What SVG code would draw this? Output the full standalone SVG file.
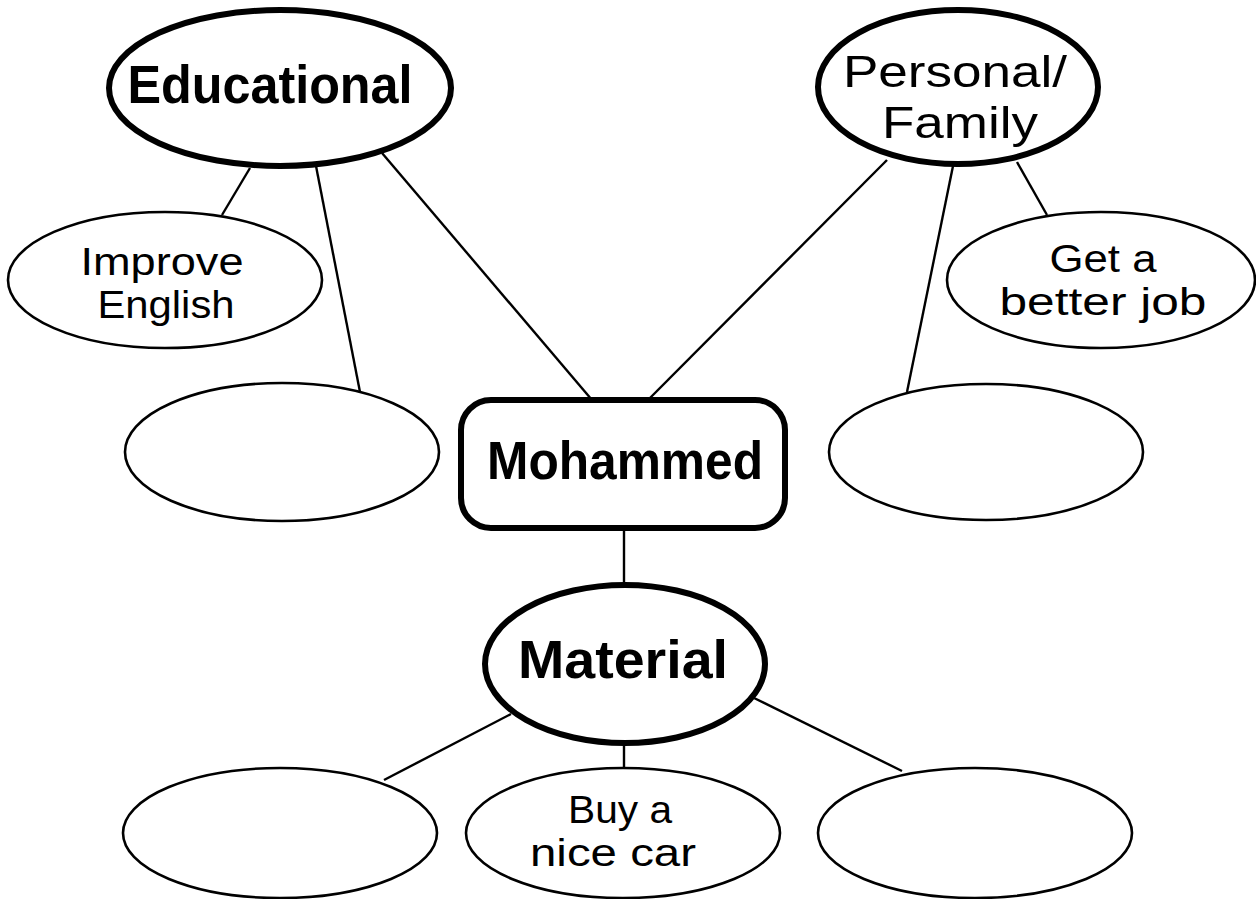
<svg xmlns="http://www.w3.org/2000/svg" width="1256" height="899" viewBox="0 0 1256 899">
<style>
.bg{fill:#fff}
.major{fill:#fff;stroke:#000;stroke-width:6}
.minor{fill:#fff;stroke:#000;stroke-width:2.6}
.conn line{stroke:#000;stroke-width:2.4}
text{font-family:"Liberation Sans","Comic Sans MS",sans-serif;fill:#000;text-anchor:middle}
.big{font-size:54px;font-weight:bold}
.mid{font-size:45px}
.small{font-size:38px}
</style>
<rect class="bg" x="0" y="0" width="1256" height="899"/>
<g id="connectors" class="conn">
<line x1="250" y1="168" x2="222" y2="215"/>
<line x1="316" y1="166" x2="360" y2="392"/>
<line x1="382" y1="153" x2="592" y2="400"/>
<line x1="887" y1="160" x2="648" y2="400"/>
<line x1="953" y1="166" x2="907" y2="392"/>
<line x1="1017" y1="162" x2="1047" y2="215"/>
<line x1="624" y1="528" x2="624" y2="585"/>
<line x1="511" y1="714" x2="384" y2="780"/>
<line x1="624" y1="743" x2="624" y2="768"/>
<line x1="754" y1="698" x2="902" y2="771"/>
</g>
<g id="educational">
<ellipse class="major" cx="280" cy="88" rx="171" ry="78"/>
<text class="big" x="270" y="103" textLength="285" lengthAdjust="spacingAndGlyphs">Educational</text>
</g>
<g id="personal-family">
<ellipse class="major" cx="958" cy="87" rx="140" ry="77"/>
<text class="mid" x="955" y="87" textLength="224" lengthAdjust="spacingAndGlyphs">Personal/</text>
<text class="mid" x="960" y="138" textLength="156" lengthAdjust="spacingAndGlyphs">Family</text>
</g>
<g id="improve-english">
<ellipse class="minor" cx="165" cy="280" rx="157" ry="68"/>
<text class="small" x="162" y="275" textLength="163" lengthAdjust="spacingAndGlyphs">Improve</text>
<text class="small" x="166" y="318" textLength="137" lengthAdjust="spacingAndGlyphs">English</text>
</g>
<g id="edu-empty">
<ellipse class="minor" cx="282" cy="452" rx="157" ry="69"/>
</g>
<g id="better-job">
<ellipse class="minor" cx="1101" cy="280" rx="154" ry="68"/>
<text class="small" x="1103" y="272" textLength="107" lengthAdjust="spacingAndGlyphs">Get a</text>
<text class="small" x="1103" y="315" textLength="207" lengthAdjust="spacingAndGlyphs">better job</text>
</g>
<g id="personal-empty">
<ellipse class="minor" cx="986" cy="452" rx="157" ry="68"/>
</g>
<g id="mohammed">
<rect class="major" x="461" y="400" width="324" height="128" rx="30" ry="30"/>
<text class="big" x="625" y="479" textLength="276" lengthAdjust="spacingAndGlyphs">Mohammed</text>
</g>
<g id="material">
<ellipse class="major" cx="625" cy="664" rx="140" ry="79"/>
<text class="big" x="623" y="678" textLength="210" lengthAdjust="spacingAndGlyphs">Material</text>
</g>
<g id="material-empty-left">
<ellipse class="minor" cx="280" cy="833" rx="157" ry="65"/>
</g>
<g id="buy-car">
<ellipse class="minor" cx="623" cy="833" rx="157" ry="65"/>
<text class="small" x="620" y="823" textLength="104" lengthAdjust="spacingAndGlyphs">Buy a</text>
<text class="small" x="613" y="866" textLength="166" lengthAdjust="spacingAndGlyphs">nice car</text>
</g>
<g id="material-empty-right">
<ellipse class="minor" cx="975" cy="833" rx="157" ry="65"/>
</g>
</svg>
